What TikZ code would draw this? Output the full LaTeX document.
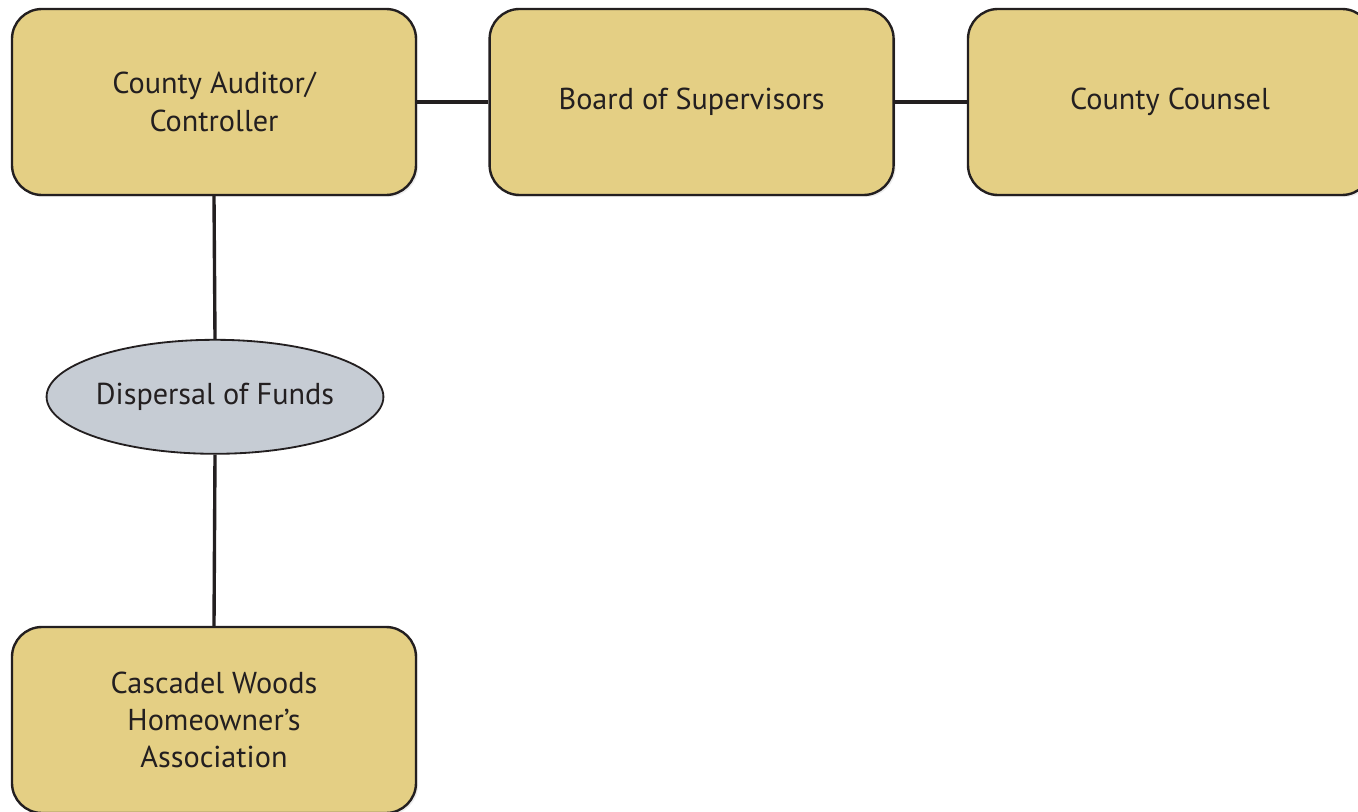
\documentclass[tikz,border=0pt]{standalone}
\usepackage{fontspec}
\setmainfont{PT Sans}
\usetikzlibrary{shapes.geometric,shadows}
\definecolor{boxfill}{HTML}{E4CF84}
\definecolor{fundfill}{HTML}{C6CCD4}
\definecolor{ink}{HTML}{231F20}
\tikzset{
    office/.style={draw=ink,line width=1.7pt,fill=boxfill,rounded corners=0.75cm,
        minimum width=10.1cm,minimum height=4.65cm,align=center,
        font=\fontsize{21.5}{26.5}\selectfont,text=ink,
        drop shadow={opacity=0.15,shadow xshift=1.5pt,shadow yshift=-1.5pt}},
    fund/.style={draw=ink,line width=1.3pt,fill=fundfill,ellipse,inner sep=0pt,
        minimum width=8.3cm,minimum height=2.85cm,
        font=\fontsize{21.5}{26.5}\selectfont,text=ink},
    link/.style={draw=ink,line width=2.4pt}
}
\begin{document}
\begin{tikzpicture}
        \useasboundingbox (0,0) rectangle (33.95,-20.3);
        %% top row
        \node[office] (auditor) at (5.35,-2.55) {County Auditor/\\Controller};
        \node[office] (board) at (17.29,-2.55) {Board of Supervisors};
        \node[office] (counsel) at (29.25,-2.55) {County Counsel};
        %% funds down to the association
        \node[fund] (funds) at (5.375,-9.92) {Dispersal of Funds};
        \node[office] (hoa) at (5.35,-18.0) {Cascadel Woods\\Homeowner’s\\Association};
        %% links
        \draw[link] (auditor) -- (board);
        \draw[link] (board) -- (counsel);
        \draw[link] (auditor.south) -- (funds.north);
        \draw[link] (funds.south) -- (hoa.north);
    \end{tikzpicture}
\end{document}
